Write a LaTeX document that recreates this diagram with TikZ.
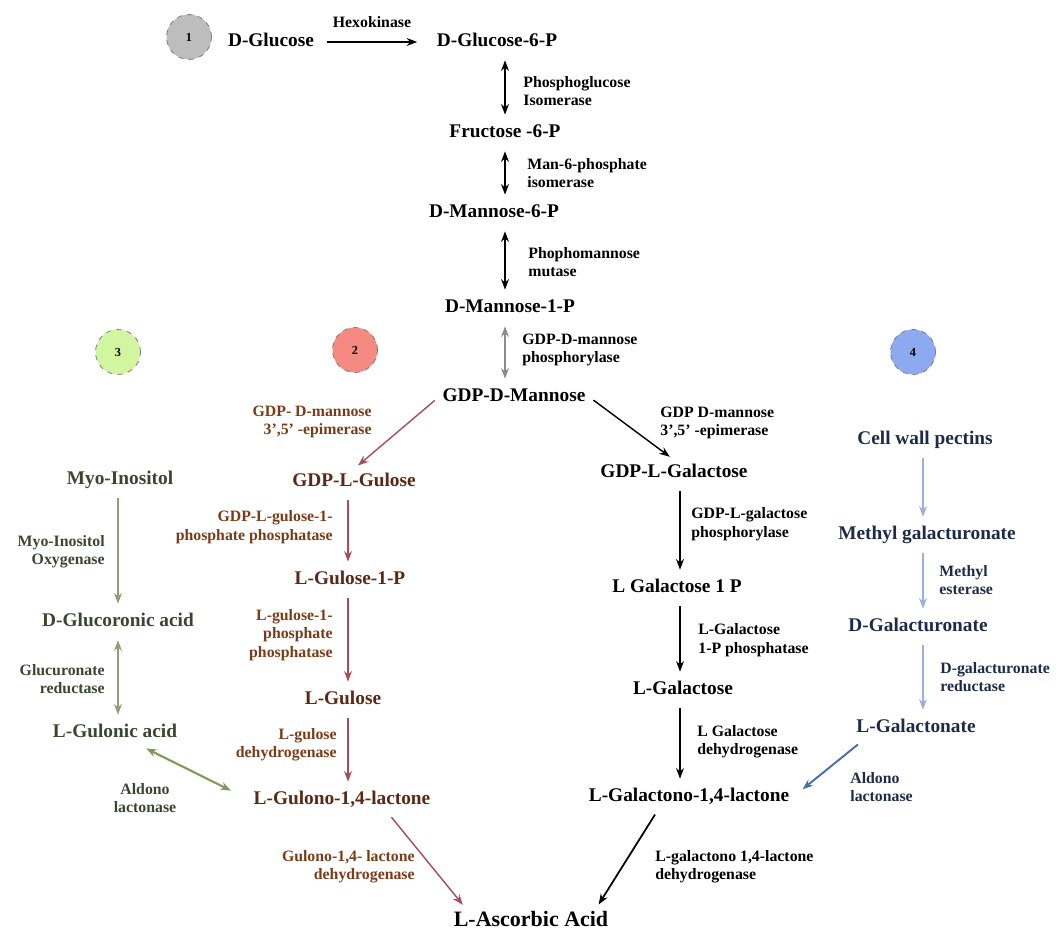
\documentclass[tikz,border=0pt]{standalone}
\usepackage{fontspec}
\setmainfont{Liberation Serif}
\usetikzlibrary{arrows.meta, calc}

\definecolor{gulred}{HTML}{A64D55}
\definecolor{gultext}{HTML}{5A2814}
\definecolor{gullab}{HTML}{7A3C18}
\definecolor{inogreen}{HTML}{8E9E78}
\definecolor{aldgreen}{HTML}{7F9A5E}
\definecolor{inotext}{HTML}{3A4630}
\definecolor{pecblue}{HTML}{9AB0D8}
\definecolor{aldblue}{HTML}{4A6EA8}
\definecolor{pectext}{HTML}{1E2A48}
\definecolor{circgray}{HTML}{BDBDBD}
\definecolor{circred}{HTML}{F48A82}
\definecolor{circgreen}{HTML}{D2F5A0}
\definecolor{circblue}{HTML}{8DAAF0}

\tikzset{
  met/.style={font=\fontsize{11}{13}\selectfont\bfseries, text height=8pt, text depth=2.5pt, inner sep=2pt},
  enz/.style={font=\fontsize{9}{10.5}\selectfont\bfseries, inner sep=0pt, align=left, anchor=west},
  enzr/.style={enz, align=right, anchor=east},
  numball/.style={circle, draw=black!55, dashed, fill=#1, minimum size=0.9cm, font=\fontsize{7}{8}\selectfont\bfseries},
  rxn/.style={->, line width=0.8pt, shorten <=3pt, shorten >=3pt},
  rev/.style={<->, line width=0.8pt, shorten <=3pt, shorten >=3pt}
}

\begin{document}
\begin{tikzpicture}[x=0.02cm, y=-0.02cm, >={Stealth[length=6pt,width=4.5pt]}]
	\useasboundingbox (0,0) rectangle (1057,935);

	\coordinate (xm) at (505,0);
	\coordinate (xg) at (348,0);
	\coordinate (xi) at (118,0);
	\coordinate (xl) at (680,0);
	\coordinate (xp) at (923,0);

	\node[numball=circgray] (c1) at (189,37) {1};
	\node[numball=circred] (c2) at (355,350) {2};
	\node[numball=circgreen] (c3) at (118,352) {3};
	\node[numball=circblue] (c4) at (913,352) {4};

	\node[met] (glc) at (271,42) {D-Glucose};
	\node[met] (g6p) at (497,42) {D-Glucose-6-P};
	\node[met] (f6p) at (505,133) {Fructose -6-P};
	\node[met] (m6p) at (494,213) {D-Mannose-6-P};
	\node[met] (m1p) at (510,308) {D-Mannose-1-P};
	\node[met] (gdpman) at (514,397) {GDP-D-Mannose};
	\node[met] (gdpgal) at (674,473) {GDP-L-Galactose};
	\node[met] (lgal1p) at (677,588) {L Galactose 1 P};
	\node[met] (lgal) at (683,690) {L-Galactose};
	\node[met] (galono) at (689,797) {L-Galactono-1,4-lactone};
	\node[met, font=\fontsize{12.5}{15}\selectfont\bfseries] (asc) at (531,922) {L-Ascorbic Acid};

	\node[met, gultext] (gul) at (354,482) {GDP-L-Gulose};
	\node[met, gultext] (gul1p) at (350,580) {L-Gulose-1-P};
	\node[met, gultext] (gulose) at (343,700) {L-Gulose};
	\node[met, gultext] (gulono) at (342,800) {L-Gulono-1,4-lactone};

	\node[met, inotext] (myo) at (120,480) {Myo-Inositol};
	\node[met, inotext] (dglca) at (118,622) {D-Glucoronic acid};
	\node[met, inotext] (gula) at (115,733) {L-Gulonic acid};

	\node[met, pectext] (pectin) at (925,440) {Cell wall pectins};
	\node[met, pectext] (methyl) at (927,535) {Methyl galacturonate};
	\node[met, pectext] (dgala) at (918,627) {D-Galacturonate};
	\node[met, pectext] (lgala) at (916,728) {L-Galactonate};

	\node[enz, anchor=center] (hk) at (372,22) {Hexokinase};
	\node[enz] (pgi) at (523,91) {Phosphoglucose\\Isomerase};
	\node[enz] (mpi) at (527,173) {Man-6-phosphate\\isomerase};
	\node[enz] (pmm) at (528,262) {Phophomannose\\mutase};
	\node[enz] (gmp) at (522,350) {GDP-D-mannose\\phosphorylase};
	\node[enz] (gme) at (660,423) {GDP D-mannose\\3’,5’ -epimerase};
	\node[enz] (ggal) at (691,524) {GDP-L-galactose\\phosphorylase};
	\node[enz] (gpp) at (698,640) {L-Galactose\\1-P phosphatase};
	\node[enz] (galdh) at (697,742) {L Galactose\\dehydrogenase};
	\node[enz] (gldh) at (655,867) {L-galactono 1,4-lactone\\dehydrogenase};

	\node[enzr, gullab] (gmeb) at (372,422) {GDP- D-mannose\\3’,5’ -epimerase};
	\node[enzr, gullab] (ggup) at (333,527) {GDP-L-gulose-1-\\phosphate phosphatase};
	\node[enzr, gullab] (gupp) at (333,635) {L-gulose-1-\\phosphate\\phosphatase};
	\node[enzr, gullab] (gudh) at (337,745) {L-gulose\\dehydrogenase};
	\node[enzr, gullab] (guldh) at (415,867) {Gulono-1,4- lactone\\dehydrogenase};

	\node[enzr, inotext] (mio) at (105,552) {Myo-Inositol\\Oxygenase};
	\node[enzr, inotext] (gur) at (105,679) {Glucuronate\\reductase};
	\node[enz, inotext, align=center, anchor=center] (alda) at (145,798) {Aldono\\lactonase};

	\node[enz, pectext] (mest) at (939,580) {Methyl\\esterase};
	\node[enz, pectext] (gar) at (940,677) {D-galacturonate\\reductase};
	\node[enz, pectext] (aldb) at (850,787) {Aldono\\lactonase};

	\draw[rxn, shorten <=5pt, shorten >=9pt] (glc) -- (g6p);
	\draw[rev] (g6p.south -| xm) -- (f6p.north -| xm);
	\draw[rev] (f6p.south -| xm) -- (m6p.north -| xm);
	\draw[rev] (m6p.south -| xm) -- (m1p.north -| xm);
	\draw[rev, black!45, line width=0.6pt] (m1p.south -| xm) -- (gdpman.north -| xm);
	\draw[rxn] (gdpman.east) -- (gdpgal.north);
	\draw[rxn, line width=1.4pt] (gdpgal.south -| xl) -- (lgal1p.north -| xl);
	\draw[rxn, line width=0.6pt] (lgal1p.south -| xl) -- (lgal.north -| xl);
	\draw[rxn, line width=0.6pt] (lgal.south -| xl) -- (galono.north -| xl);
	\draw[rxn, line width=1pt] ($(galono.south west)!0.7!(galono.south)$) -- ($(asc.north east)!0.2!(asc.north)$);

	\draw[rxn, gulred] (gdpman.west) -- (gul.north);
	\draw[rxn, gulred] (gul.south -| xg) -- (gul1p.north -| xg);
	\draw[rxn, gulred] (gul1p.south -| xg) -- (gulose.north -| xg);
	\draw[rxn, gulred] (gulose.south -| xg) -- (gulono.north -| xg);
	\draw[rxn, gulred] ($(gulono.south)!0.5!(gulono.south east)$) -- ($(asc.north west)!0.2!(asc.north)$);

	\draw[rxn, inogreen] (myo.south -| xi) -- (dglca.north -| xi);
	\draw[rev, inogreen] (dglca.south -| xi) -- (gula.north -| xi);
	\draw[rev, aldgreen, line width=1.2pt, shorten >=12pt] ($(gula.south)!0.4!(gula.south east)$) -- (gulono.west);

	\draw[rxn, pecblue, line width=0.6pt] (pectin.south -| xp) -- (methyl.north -| xp);
	\draw[rxn, pecblue, line width=0.6pt] (methyl.south -| xp) -- (dgala.north -| xp);
	\draw[rxn, pecblue, line width=0.6pt] (dgala.south -| xp) -- (lgala.north -| xp);
	\draw[rxn, aldblue, line width=1.1pt, shorten >=7pt] ($(lgala.south west)!0.15!(lgala.south)$) -- (galono.east);
\end{tikzpicture}
\end{document}
